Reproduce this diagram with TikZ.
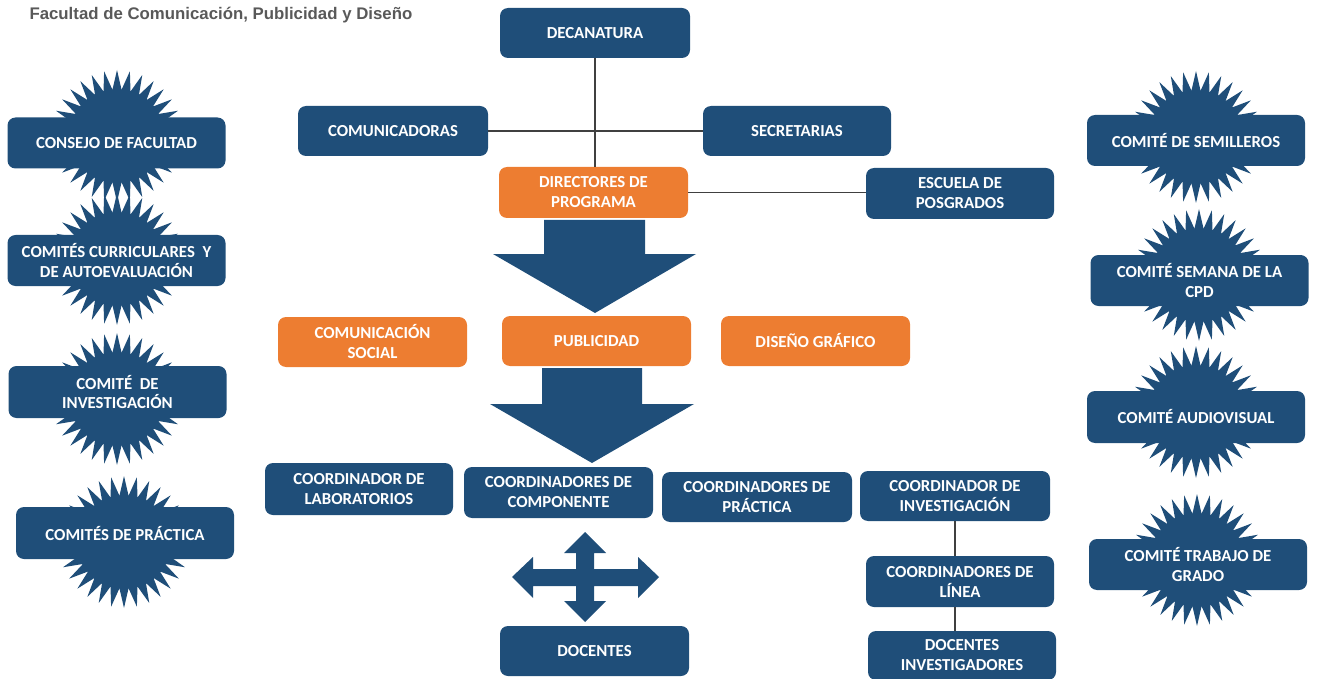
\documentclass[tikz,border=0pt]{standalone}
\usepackage{fontspec}
\setmainfont{Carlito}
\newfontfamily\titlefont{Liberation Sans}
\usetikzlibrary{shapes.geometric}
\definecolor{boxblue}{RGB}{31,78,121}
\definecolor{boxorange}{RGB}{237,125,49}
\definecolor{titlegray}{RGB}{89,89,89}
\definecolor{linegray}{RGB}{64,64,64}
\tikzset{
  base/.style={rounded corners=8pt, inner sep=0pt, align=center, text=white,
    font=\bfseries\fontsize{16.8}{20}\selectfont},
  bluebox/.style={base, fill=boxblue, minimum width=190pt, minimum height=50pt},
  orangebox/.style={base, fill=boxorange, minimum width=189pt, minimum height=50pt},
  combox/.style={base, fill=boxblue, minimum width=218pt, minimum height=51pt},
  burst/.style={star, star points=32, star point ratio=1.42, fill=boxblue,
    minimum size=132pt, inner sep=0pt, draw=none},
  link/.style={draw=linegray, line width=1.2pt},
  bigarrow/.style={fill=boxblue}
}
\begin{document}
\begin{tikzpicture}[x=1pt,y=-1pt]
\useasboundingbox (0,0) rectangle (1317,679);

\node[anchor=west, text=titlegray, font=\titlefont\bfseries\fontsize{16.8}{19}\selectfont] (title) at (26,15) {Facultad de Comunicación, Publicidad y Diseño};

% starbursts left
\node[burst] (sl1) at (117,136) {};
\node[burst] (sl2) at (117,259) {};
\node[burst] (sl3) at (117,399) {};
\node[burst] (sl4) at (124,542) {};
% starbursts right
\node[burst] (sr1) at (1196,137) {};
\node[burst] (sr2) at (1199,275) {};
\node[burst] (sr3) at (1196,412) {};
\node[burst] (sr4) at (1197,560) {};

% committee boxes left
\node[combox] (consejo) at (116.5,143) {CONSEJO DE FACULTAD};
\node[combox] (curric) at (116.5,260.5) {COMITÉS CURRICULARES \ Y\\DE AUTOEVALUACIÓN};
\node[combox, minimum height=52pt] (cinvest) at (117.5,392) {COMITÉ \ DE\\INVESTIGACIÓN};
\node[combox, minimum height=52pt] (cprac2) at (125,533) {COMITÉS DE PRÁCTICA};
% committee boxes right
\node[combox] (semill) at (1196,140.5) {COMITÉ DE SEMILLEROS};
\node[combox] (semana) at (1199.5,280.5) {COMITÉ SEMANA DE LA\\CPD};
\node[combox, minimum height=52pt] (audio) at (1196,417) {COMITÉ AUDIOVISUAL};
\node[combox] (trabajo) at (1198,564.5) {COMITÉ TRABAJO DE\\GRADO};

% central hierarchy
\node[bluebox] (dec) at (595,33) {DECANATURA};
\node[bluebox] (comu) at (393,131) {COMUNICADORAS};
\node[bluebox, minimum width=188pt] (secr) at (797,131) {SECRETARIAS};
\node[orangebox, minimum height=51pt] (dir) at (593.5,192.5) {DIRECTORES DE\\PROGRAMA};
\node[bluebox, minimum width=188pt, minimum height=51pt] (esc) at (960,193.5) {ESCUELA DE\\POSGRADOS};

\node[orangebox] (csoc) at (372.5,342) {COMUNICACIÓN\\SOCIAL};
\node[orangebox] (pub) at (596.5,341) {PUBLICIDAD};
\node[orangebox] (dis) at (815.5,341) {DISEÑO GRÁFICO};

\node[bluebox, minimum width=188pt, minimum height=52pt] (clab) at (359,489) {COORDINADOR DE\\LABORATORIOS};
\node[bluebox, minimum width=189pt, minimum height=51pt] (ccomp) at (558.5,492.5) {COORDINADORES DE\\COMPONENTE};
\node[bluebox] (cprac) at (757,497) {COORDINADORES DE\\PRÁCTICA};
\node[bluebox] (cinv) at (955,496) {COORDINADOR DE\\INVESTIGACIÓN};
\node[bluebox, minimum width=188pt, minimum height=51pt] (clin) at (960,581.5) {COORDINADORES DE\\LÍNEA};
\node[bluebox, minimum width=188pt, minimum height=49pt] (docinv) at (962,655.5) {DOCENTES\\INVESTIGADORES};
\node[bluebox, minimum width=189pt] (doc) at (594.5,651) {DOCENTES};

% connectors
\draw[link] (dec.south) -- (dec.south |- dir.north);
\draw[link] (comu.east) -- (secr.west);
\draw[link] (dir.east) -- (dir.east -| esc.west);
\draw[link] (cinv.south) -- (cinv.south |- clin.north);
\draw[link] (cinv.south |- clin.south) -- (cinv.south |- docinv.north);

% big down arrows
\fill[bigarrow] (544,220) -- (645,220) -- (645,254) -- (696,254) -- (595,313)
  -- (493,254) -- (544,254) -- cycle;
\fill[bigarrow] (542,368) -- (642,368) -- (642,404) -- (694,404) -- (592,463)
  -- (490,404) -- (542,404) -- cycle;

% four-way arrow
\fill[bigarrow] (585,532) -- (606,553) -- (594,553) -- (594,569) -- (638,569)
  -- (638,557) -- (659,577) -- (638,598) -- (638,586) -- (594,586) -- (594,601)
  -- (606,601) -- (585,622) -- (564,601) -- (576,601) -- (576,586) -- (533,586)
  -- (533,598) -- (512,577) -- (533,557) -- (533,569) -- (576,569) -- (576,553)
  -- (564,553) -- cycle;
\end{tikzpicture}
\end{document}
